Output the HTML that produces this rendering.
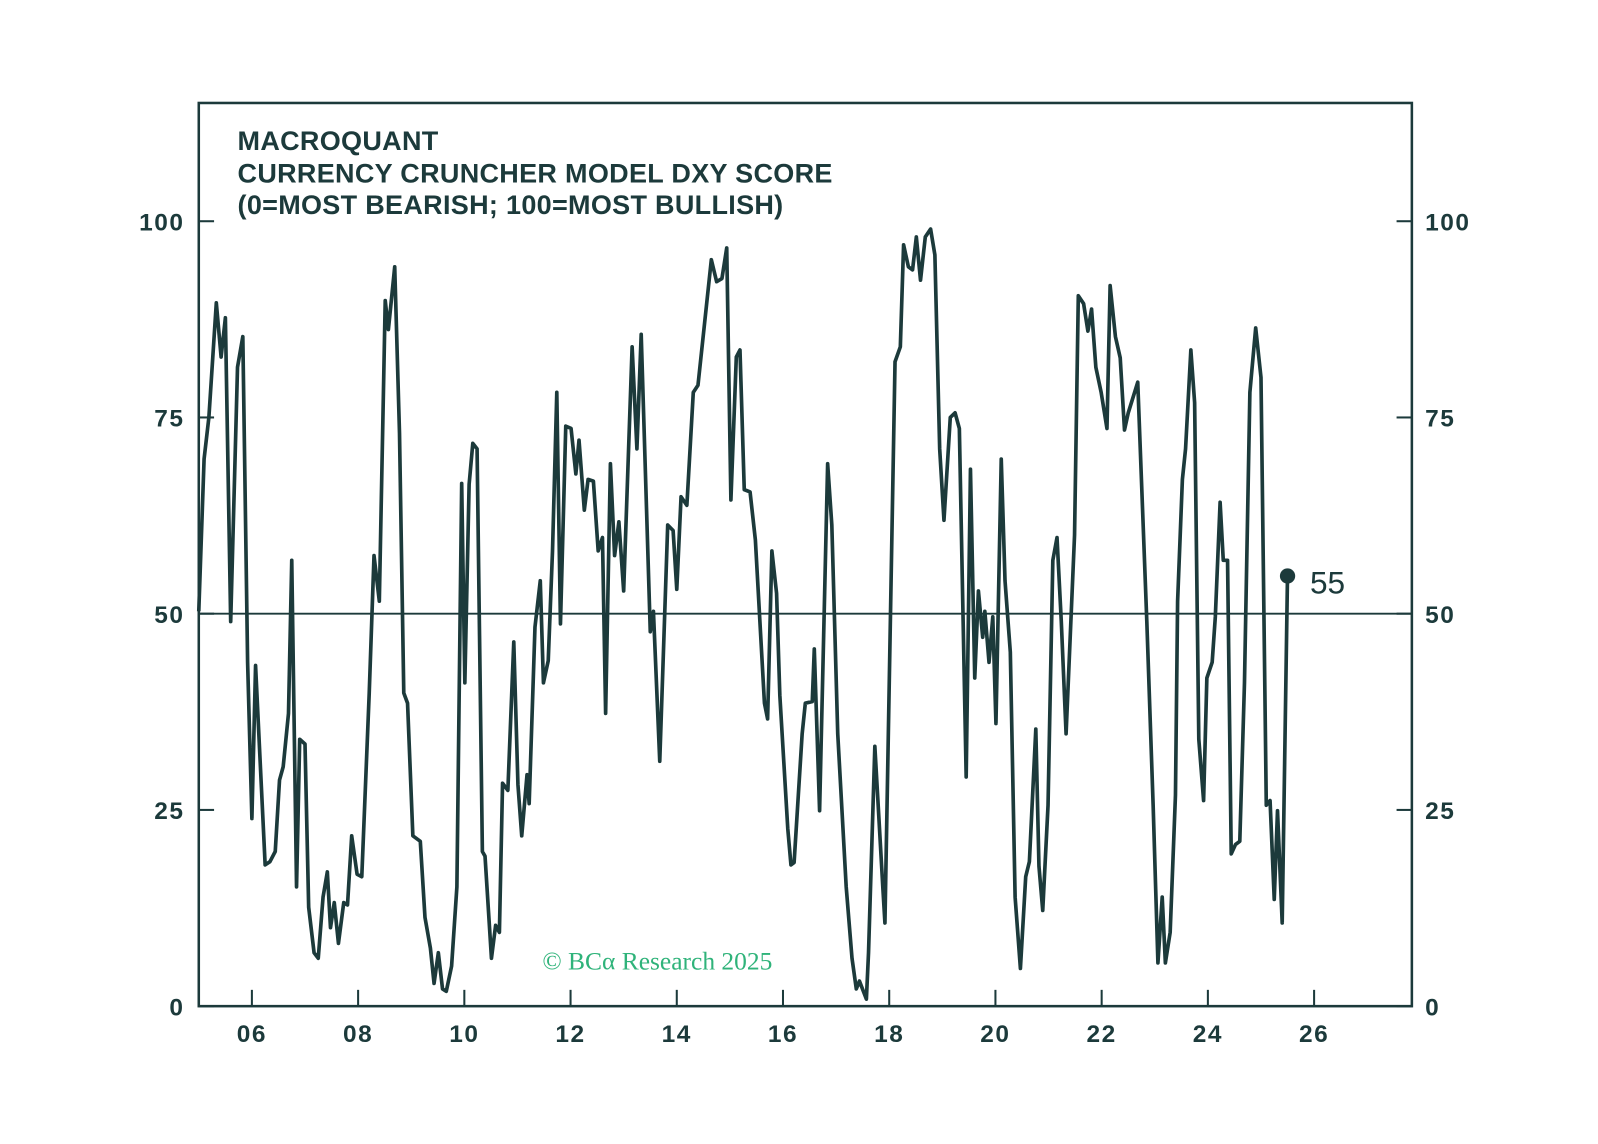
<!DOCTYPE html>
<html><head><meta charset="utf-8"><style>
html,body{margin:0;padding:0;background:#fff;}
svg{display:block;}
text{font-family:"Liberation Sans",sans-serif;fill:#1c3a3b;}
</style></head><body>
<svg id="chart" width="1598" height="1144" viewBox="0 0 1567.6 1122.2" xmlns="http://www.w3.org/2000/svg">
<rect x="0" y="0" width="1600" height="1150" fill="#fff"/>
<g id="axes"></g>
<g id="series"></g>
<text x="233" y="147" font-size="26.5" font-weight="bold" letter-spacing="0.3">MACROQUANT</text>
<text x="233" y="179" font-size="26.5" font-weight="bold" letter-spacing="0.3">CURRENCY CRUNCHER MODEL DXY SCORE</text>
<text x="233" y="210" font-size="26.5" font-weight="bold" letter-spacing="0.3">(0=MOST BEARISH; 100=MOST BULLISH)</text>
<text x="532" y="951" font-size="25" style="fill:#2fb37a;font-family:'Liberation Serif',serif">© BCα Research 2025</text>
</svg>
<script>
const years=[2005.00,2005.10,2005.19,2005.33,2005.42,2005.50,2005.60,2005.73,2005.83,2005.92,2006.00,2006.07,2006.15,2006.25,2006.34,2006.44,2006.52,2006.59,2006.69,2006.75,2006.84,2006.90,2007.00,2007.07,2007.17,2007.25,2007.34,2007.42,2007.48,2007.55,2007.63,2007.73,2007.80,2007.88,2007.98,2008.07,2008.21,2008.30,2008.40,2008.51,2008.57,2008.69,2008.78,2008.86,2008.93,2009.03,2009.17,2009.26,2009.36,2009.43,2009.51,2009.59,2009.66,2009.76,2009.86,2009.95,2010.01,2010.09,2010.16,2010.24,2010.34,2010.39,2010.51,2010.59,2010.66,2010.72,2010.82,2010.93,2011.01,2011.08,2011.18,2011.22,2011.33,2011.43,2011.49,2011.58,2011.66,2011.74,2011.81,2011.91,2012.01,2012.10,2012.16,2012.26,2012.33,2012.43,2012.52,2012.60,2012.66,2012.75,2012.83,2012.91,2013.00,2013.16,2013.25,2013.33,2013.50,2013.56,2013.68,2013.83,2013.93,2014.00,2014.08,2014.19,2014.31,2014.40,2014.65,2014.75,2014.85,2014.94,2015.02,2015.12,2015.19,2015.27,2015.38,2015.48,2015.65,2015.71,2015.79,2015.88,2015.94,2016.09,2016.15,2016.21,2016.36,2016.42,2016.55,2016.59,2016.69,2016.84,2016.92,2017.03,2017.19,2017.30,2017.38,2017.44,2017.57,2017.61,2017.73,2017.88,2017.92,2018.11,2018.21,2018.27,2018.36,2018.44,2018.51,2018.59,2018.68,2018.78,2018.86,2018.95,2019.03,2019.15,2019.24,2019.32,2019.45,2019.53,2019.61,2019.68,2019.76,2019.80,2019.88,2019.95,2020.01,2020.11,2020.18,2020.28,2020.37,2020.47,2020.57,2020.64,2020.76,2020.82,2020.89,2020.99,2021.08,2021.16,2021.24,2021.33,2021.49,2021.56,2021.66,2021.74,2021.81,2021.89,2021.99,2022.10,2022.16,2022.26,2022.35,2022.43,2022.50,2022.68,2022.85,2022.97,2023.06,2023.14,2023.20,2023.29,2023.39,2023.43,2023.52,2023.58,2023.68,2023.75,2023.83,2023.92,2023.98,2024.08,2024.14,2024.23,2024.29,2024.37,2024.44,2024.52,2024.60,2024.69,2024.79,2024.90,2025.00,2025.10,2025.17,2025.25,2025.31,2025.40,2025.50];
const scores=[50.3,69.7,75,89.6,82.7,87.7,49,81.4,85.3,43.8,23.9,43.4,32,18,18.4,19.7,28.8,30.5,37.3,56.8,15.2,34,33.4,12.6,6.8,6.1,13.9,17.1,10,13.2,8,13.2,12.9,21.7,16.8,16.5,39.9,57.4,51.6,89.9,86.2,94.2,73,39.9,38.6,21.7,21,11.3,7.4,2.9,6.8,2.2,1.9,5.1,15.2,66.6,41.2,66.5,71.7,71,19.7,19.1,6.1,10.3,9.4,28.4,27.5,46.4,28.2,21.7,29.5,25.8,48.3,54.2,41.2,44,58,78.2,48.7,73.9,73.6,67.8,72.1,63.2,67.1,66.9,58,59.7,37.3,69.1,57.4,61.7,52.9,84,71,85.6,47.7,50.3,31.2,61.3,60.6,53.1,64.9,63.8,78.2,79.1,95.1,92.3,92.7,96.6,64.5,82.7,83.6,65.8,65.5,59.4,38.6,36.6,58,52.6,39.6,22.6,18,18.3,34.7,38.6,38.8,45.5,24.9,69.1,61.3,34.7,15.2,6.1,2.2,3.2,0.9,6.8,33.1,15.2,10.6,82.1,84,97,94.2,93.8,98,92.5,98,99,95.7,71,61.9,75,75.6,73.6,29.2,68.4,41.8,52.9,47,50.3,43.8,49.6,36,69.7,54.2,45.1,13.9,4.8,16.5,18.4,35.3,17.8,12.2,25.6,56.8,59.7,49,34.7,60,90.5,89.5,86,88.8,81.4,78.2,73.6,91.8,85.3,82.6,73.4,75.6,79.5,49,25.6,5.5,13.9,5.5,9.4,26.9,51.6,67.1,71,83.6,76.9,34,26.2,41.8,43.8,49.6,64.2,56.8,56.8,19.4,20.6,21,41.2,78.2,86.4,80.1,25.6,26.2,13.6,24.9,10.6,54.8];
const yTicks=[0,25,50,75,100];
const xTicks=[2006,2008,2010,2012,2014,2016,2018,2020,2022,2024,2026];
const xTickLabels=["06","08","10","12","14","16","18","20","22","24","26"];
const lastLabel="55";

const L=195,R=1385,T=101,B=987;
function xs(v){return L+(v-2005)*(1289-247)/20;}
function ys(v){return B-v*(B-217)/100;}
const NS="http://www.w3.org/2000/svg";
function mk(tag,attrs,parent){const e=document.createElementNS(NS,tag);for(const k in attrs)e.setAttribute(k,attrs[k]);parent.appendChild(e);return e;}
const ax=document.getElementById('axes'),sr=document.getElementById('series');
const C="#1c3a3b";
const frame=mk('rect',{x:L,y:T,width:R-L,height:B-T,fill:'none',stroke:C,'stroke-width':2.5},ax);


const mid=mk('line',{x1:L,x2:R,y1:ys(50),y2:ys(50),stroke:C,'stroke-width':1.8},ax);


yTicks.forEach(v=>{
  const y=ys(v);
  const t1=mk('line',{x1:L,x2:L+15,y1:y,y2:y,stroke:C,'stroke-width':2},ax);
  
  
  const t2=mk('line',{x1:R-15,x2:R,y1:y,y2:y,stroke:C,'stroke-width':2},ax);
  
  
  const a=mk('text',{x:181,y:y+9,'font-size':24,'font-weight':'bold','text-anchor':'end','letter-spacing':1.5},ax);a.textContent=v;
  
  
  const b=mk('text',{x:1398,y:y+9,'font-size':24,'font-weight':'bold','letter-spacing':1.5},ax);b.textContent=v;
  
  
});
xTicks.forEach((v,i)=>{
  const x=xs(v);
  const t=mk('line',{x1:x,x2:x,y1:B-16,y2:B,stroke:C,'stroke-width':2},ax);
  
  
  const l=mk('text',{x:x,y:1022,'font-size':24,'font-weight':'bold','text-anchor':'middle','letter-spacing':1.5},ax);l.textContent=xTickLabels[i];
  
  
});
const d=years.map((yr,i)=>(i?'L':'M')+xs(yr).toFixed(1)+','+ys(scores[i]).toFixed(1)).join('');
const p=mk('path',{d:d,fill:'none',stroke:C,'stroke-width':3.6,'stroke-linejoin':'round'},sr);


const n=years.length-1;
const dot=mk('circle',{cx:xs(years[n]),cy:ys(scores[n]),r:7.5,fill:C},sr);


const lt=mk('text',{x:xs(years[n])+22,y:ys(scores[n])+17,'font-size':31},sr);lt.textContent=lastLabel;


</script>
</body></html>
